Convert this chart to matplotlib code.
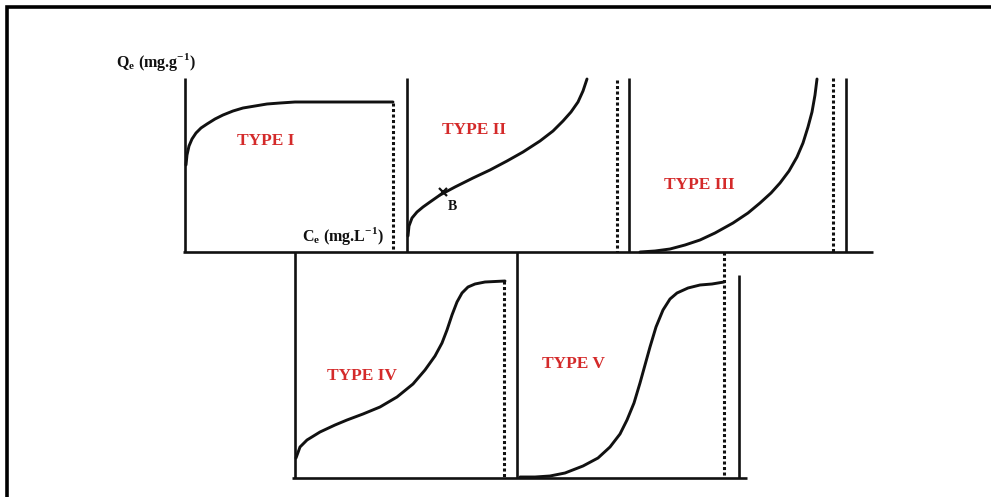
import matplotlib.pyplot as plt

# Curves (pixel positions in the original figure: x right, y down)
type1_x = [186, 187, 189, 192, 196, 201, 207, 215, 223, 233, 243, 255, 267, 280, 295, 393]
type1_y = [165, 155, 146, 139, 133, 128, 124, 119, 115, 111, 108, 106, 104, 103, 102, 102]

type2_x = [408, 409, 412, 417, 423, 430, 440, 455, 473, 490, 507, 523, 540, 553, 563, 571, 578, 583, 587]
type2_y = [236, 226, 218, 212, 207, 202, 195, 187, 178, 170, 161, 152, 141, 131, 121, 112, 102, 91, 79]

type3_x = [640, 655, 670, 685, 700, 715, 733, 748, 760, 771, 780, 789, 797, 803, 808, 812, 815, 817]
type3_y = [252, 251, 249, 245, 240, 233, 223, 213, 203, 193, 183, 171, 157, 143, 127, 112, 95, 79]

type4_x = [296, 300, 307, 320, 335, 347, 363, 380, 397, 413, 425, 435, 442, 447, 452, 457, 462, 468, 475, 485, 505]
type4_y = [458, 447, 440, 432, 425, 420, 414, 407, 397, 384, 370, 356, 343, 330, 315, 302, 293, 287, 284, 282, 281]

type5_x = [520, 535, 550, 565, 583, 598, 610, 620, 627, 634, 640, 645, 650, 656, 663, 670, 677, 688, 700, 712, 724]
type5_y = [477, 477, 476, 473, 466, 458, 447, 434, 420, 403, 383, 365, 347, 327, 310, 299, 293, 288, 285, 284, 282]

labels = ["TYPE I", "TYPE II", "TYPE III", "TYPE IV", "TYPE V"]
label_x = [266, 474, 699, 362, 573]
label_y = [141, 130, 185, 376, 364]

ink = "#111111"
red = "#d42a2a"
serif = ["Liberation Serif", "DejaVu Serif"]

plt.rcParams["mathtext.fontset"] = "custom"
plt.rcParams["mathtext.rm"] = "Liberation Serif:bold"
plt.rcParams["mathtext.bf"] = "Liberation Serif:bold"

fig = plt.figure(figsize=(9.91, 4.97), dpi=100)
ax = fig.add_axes([0, 0, 1, 1])
ax.set_xlim(0, 991)
ax.set_ylim(497, 0)
ax.axis("off")

# outer frame (top and left edges)
ax.plot([7, 7, 991], [497, 7, 7], color="black", lw=2.6, solid_joinstyle="miter")

solid = dict(color=ink, lw=1.9, solid_capstyle="butt")
dotted = dict(color=ink, lw=2.2, linestyle=(0, (1.0, 0.8)))

# top row: baseline, axes and limits
ax.plot([183, 873], [252, 252], **solid)
ax.plot([185, 185], [78, 252], **solid)
ax.plot([393, 393], [103, 252], **dotted)
ax.plot([407, 407], [78, 252], **solid)
ax.plot([617, 617], [80, 252], **dotted)
ax.plot([629, 629], [78, 252], **solid)
ax.plot([833, 833], [78, 252], **dotted)
ax.plot([846, 846], [78, 252], **solid)

# bottom row
ax.plot([292, 747], [478, 478], **solid)
ax.plot([295, 295], [252, 478], **solid)
ax.plot([504, 504], [281, 478], **dotted)
ax.plot([517, 517], [252, 478], **solid)
ax.plot([724, 724], [252, 478], **dotted)
ax.plot([739, 739], [275, 478], **solid)

curve = dict(color=ink, lw=2.1, solid_joinstyle="round", solid_capstyle="round")
for xs, ys in [(type1_x, type1_y), (type2_x, type2_y), (type3_x, type3_y),
               (type4_x, type4_y), (type5_x, type5_y)]:
    ax.plot(xs, ys, **curve)

# point B on type II
ax.plot([443], [192], marker="x", color=ink, ms=6, mew=1.6)
ax.text(448, 207, "B", fontsize=10, fontweight="bold", family=serif,
        color=ink, ha="left", va="center")

for t, x, y in zip(labels, label_x, label_y):
    ax.text(x, y, t, fontsize=12.5, fontweight="bold", family=serif,
            color=red, ha="center", va="center")

ax.text(116, 62, r"Q$_\mathregular{e}$ (mg.g$^\mathregular{-1}$)", fontsize=11.5,
        fontweight="bold", family=serif, color=ink, ha="left", va="center")
ax.text(302, 236, r"C$_\mathregular{e}$ (mg.L$^\mathregular{-1}$)", fontsize=11.5,
        fontweight="bold", family=serif, color=ink, ha="left", va="center")

fig.savefig("out.png", dpi=100, facecolor="white")
